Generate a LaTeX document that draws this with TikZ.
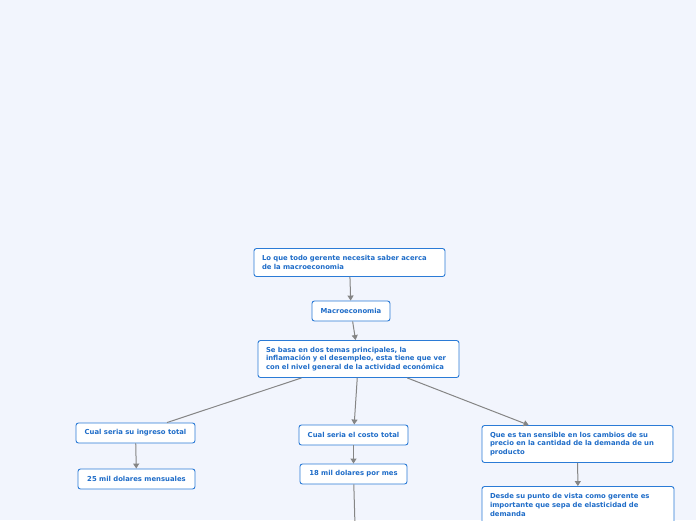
\documentclass[tikz,border=0pt]{standalone}
\usepackage{fontspec}
\setmainfont{DejaVu Sans}
\usetikzlibrary{arrows.meta}
\definecolor{bgcol}{HTML}{F2F5FD}
\definecolor{boxline}{HTML}{2B7BD6}
\definecolor{boxtext}{HTML}{1E6CC8}
\definecolor{linkcol}{HTML}{858585}
\tikzset{
    topic/.style={draw=boxline, line width=0.9pt, fill=white, rounded corners=2.5pt,
        text=boxtext, font=\fontsize{6.85}{8.6}\selectfont\bfseries, inner xsep=8pt, inner ysep=0pt},
    link/.style={draw=linkcol, line width=1pt},
    arrowlink/.style={link, -{Triangle[width=6pt,length=5pt]}}
}
\begin{document}
\begin{tikzpicture}[x=1pt,y=-1pt]
    % page and background
    \fill[bgcol] (0,0) rectangle (696,520);
    \useasboundingbox (0,0) rectangle (696,520);

    % top of the map
    \node[topic, minimum width=191pt, minimum height=28pt, text width=175pt, align=left] (gerente) at (349.5,262.5) {Lo que todo gerente necesita saber acerca\\de la macroeconomia};
    \node[topic, minimum width=78pt, minimum height=20pt] (macro) at (351,311) {Macroeconomia};
    \node[topic, minimum width=201pt, minimum height=37pt, text width=185pt, align=left] (temas) at (358.5,359) {Se basa en dos temas principales, la\\inflamación y el desempleo, esta tiene que ver\\con el nivel general de la actividad económica};

    % three branches
    \node[topic, minimum width=119pt, minimum height=20pt] (ingreso) at (135.5,433) {Cual seria su ingreso total};
    \node[topic, minimum width=117pt, minimum height=20pt] (mensual) at (136.5,479) {25 mil dolares mensuales};
    \node[topic, minimum width=109pt, minimum height=20pt] (costo) at (353.5,435) {Cual seria el costo total};
    \node[topic, minimum width=107pt, minimum height=20pt] (pormes) at (353.5,474) {18 mil dolares por mes};
    \node[topic, minimum width=191pt, minimum height=37pt, text width=175pt, align=left] (sensible) at (577.5,444) {Que es tan sensible en los cambios de su\\precio en la cantidad de la demanda de un\\producto};
    \node[topic, minimum width=192pt, minimum height=37pt, text width=176pt, align=left] (elastic) at (578,505) {Desde su punto de vista como gerente es\\importante que sepa de elasticidad de\\demanda};
    \coordinate (abajo) at (356,560);

    % connectors
    \draw[arrowlink] (gerente) -- (macro);
    \draw[arrowlink] (macro) -- (temas);
    \draw[link] (temas) -- (ingreso);
    \draw[arrowlink] (temas) -- (costo);
    \draw[arrowlink] (temas) -- (sensible);
    \draw[arrowlink] (ingreso) -- (mensual);
    \draw[arrowlink] (costo) -- (pormes);
    \draw[link] (pormes) -- (abajo);
    \draw[arrowlink] (sensible) -- (elastic);
\end{tikzpicture}
\end{document}
